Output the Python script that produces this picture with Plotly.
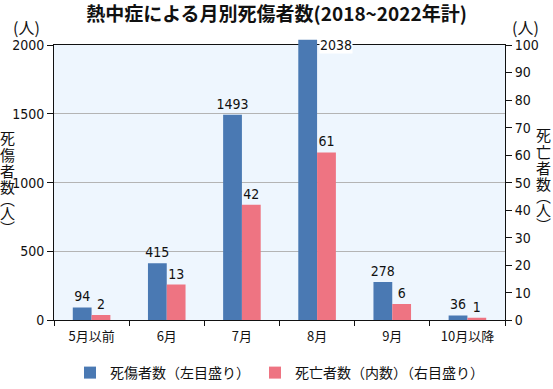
import plotly.graph_objects as go

categories = ["5月以前", "6月", "7月", "8月", "9月", "10月以降"]
casualties = [94, 415, 1493, 2038, 278, 36]
deaths = [2, 13, 42, 61, 6, 1]
left_max, right_max = 2000, 100
left_title_chars = ["死", "傷", "者", "数", "︵", "人", "︶"]
right_title_chars = ["死", "亡", "者", "数", "︵", "人", "︶"]

BLUE = "#4A79B3"
PINK = "#EE7482"
FONT = "DejaVu Sans Condensed, Liberation Sans Narrow, Liberation Sans, sans-serif"
CJK = "Noto Sans CJK JP, sans-serif"
BAR_W = 0.25

cas_text = [str(v) if v <= left_max else "" for v in casualties]

fig = go.Figure()
fig.add_trace(go.Bar(
    x=categories, y=casualties, name="死傷者数（左目盛り）",
    marker=dict(color=BLUE, line=dict(width=0)), width=BAR_W, offset=-BAR_W,
    text=cas_text, textposition="outside", constraintext="none", cliponaxis=False,
    textfont=dict(family=FONT, size=14, color="#111"), yaxis="y",
))
fig.add_trace(go.Bar(
    x=categories, y=deaths, name="死亡者数（内数）（右目盛り）",
    marker=dict(color=PINK, line=dict(width=0)), width=BAR_W, offset=0,
    text=[str(v) for v in deaths], textposition="outside", constraintext="none",
    cliponaxis=False,
    textfont=dict(family=FONT, size=14, color="#111"), yaxis="y2",
))

# portion of bars exceeding the left scale, plus their labels
for i, v in enumerate(casualties):
    if v > left_max:
        fig.add_shape(type="rect", xref="x", yref="paper",
                      x0=i - BAR_W, x1=i, y0=1, y1=v / left_max,
                      fillcolor=BLUE, line=dict(width=0), layer="above")
        fig.add_annotation(x=i, y=left_max, xref="x", yref="y", text=str(v),
                           showarrow=False, xanchor="left", yanchor="middle",
                           xshift=2, bgcolor="white", borderpad=0,
                           font=dict(family=FONT, size=14, color="#111"))

fig.update_layout(
    width=553, height=389,
    margin=dict(l=54, r=48, t=45, b=65),
    paper_bgcolor="white", plot_bgcolor="#EEF6FE",
    barmode="overlay",
    title=dict(text="<b>熱中症による月別死傷者数(2018~2022年計)</b>",
               x=0.5, xanchor="center", y=0.98, yanchor="top",
               font=dict(family=CJK, size=19, color="#111")),
    font=dict(family=FONT, size=13, color="#111"),
    showlegend=True,
    legend=dict(orientation="h", x=0.5, xanchor="center",
                yref="container", y=-0.015, yanchor="bottom",
                font=dict(family=CJK, size=14, color="#111"),
                traceorder="normal", itemwidth=30),
    xaxis=dict(showline=True, linecolor="#111", linewidth=1, mirror=True,
               ticks="outside", tickson="boundaries", ticklen=5, tickcolor="#111",
               ticklabelstandoff=4, tickfont=dict(family=CJK, size=13)),
    yaxis=dict(range=[0, left_max], tickvals=[0, 500, 1000, 1500, 2000],
               showline=True, linecolor="#111", ticks="outside", ticklen=6,
               tickcolor="#111", showgrid=True, gridcolor="#B4B4B4",
               tickfont=dict(family=FONT, size=14), zeroline=False),
    yaxis2=dict(range=[0, right_max], dtick=10, overlaying="y", side="right",
                showline=True, linecolor="#111", ticks="outside", ticklen=6,
                tickcolor="#111", showgrid=False, zeroline=False,
                tickfont=dict(family=FONT, size=14)),
)

# "(人)" unit labels above the axes
for xp, txt in [(-0.06, "(人)"), (1.045, "(人)")]:
    fig.add_annotation(x=xp, y=1.065, xref="paper", yref="paper", text=txt,
                       showarrow=False, xanchor="center", yanchor="middle",
                       font=dict(family=CJK, size=16, color="#111"))

# vertical axis titles, one character per line
steps = [0, 17, 33, 49, 61, 75, 90]
for chars, xp, y_top in [(left_title_chars, -0.102, 0.663), (right_title_chars, 1.085, 0.674)]:
    for ch, dy in zip(chars, steps):
        fig.add_annotation(x=xp, y=y_top, xref="paper", yref="paper", text=ch,
                           showarrow=False, xanchor="center", yanchor="middle",
                           yshift=-dy, font=dict(family=CJK, size=15, color="#111"))

fig.write_html("out.html", config={"displayModeBar": False},
               post_script="document.body.style.margin='0px';")
